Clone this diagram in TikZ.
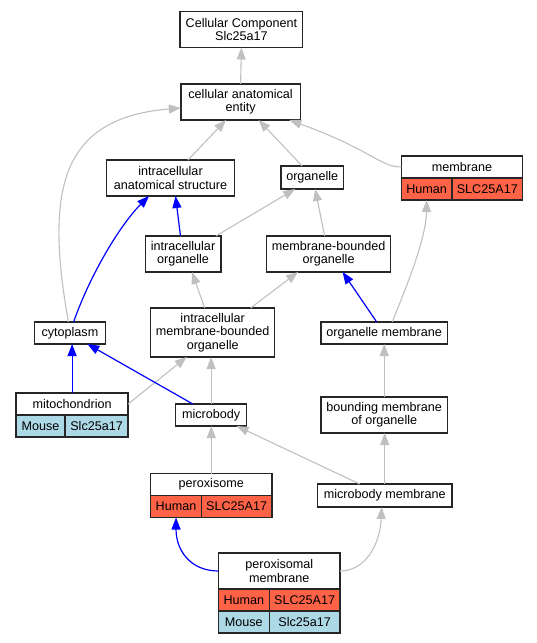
\documentclass[tikz,border=0pt]{standalone}
\usepackage{fontspec}
\setmainfont{Liberation Sans}
\usetikzlibrary{arrows.meta,positioning}

\definecolor{humanred}{HTML}{FF6347}
\definecolor{mouseblue}{HTML}{ADD8E6}
\definecolor{edgegray}{HTML}{C0C0C0}

\begin{document}
\begin{tikzpicture}[x=1pt, y=1pt,
    font=\fontsize{12.6}{13.4}\selectfont,
    term/.style={draw=black!85, line width=1.3pt, fill=white, inner sep=0pt, outer sep=0pt, align=center, minimum height=36pt},
    human/.style={term, fill=humanred, minimum height=22pt},
    mouse/.style={term, fill=mouseblue, minimum height=22pt},
    isa/.style={draw=edgegray, line width=1.1pt, -{Triangle[length=12pt,width=9pt]}},
    lineage/.style={draw=blue, line width=1.2pt, -{Triangle[length=12pt,width=9pt]}}]
    \useasboundingbox (0,0) rectangle (537,-643);

    % Terms
    \node[term, minimum width=122.7pt] (cc) at (241.4,-29.5) {Cellular Component\\Slc25a17};
    \node[term, minimum width=119.5pt] (cae) at (240.6,-102) {cellular anatomical\\entity};
    \node[term, minimum width=128pt] (ias) at (170.5,-178) {intracellular\\anatomical structure};
    \node[term, minimum width=62.7pt, minimum height=23pt] (org) at (312.2,-177.5) {organelle};
    \node[term, minimum width=121.2pt, minimum height=22pt] (memhead) at (462,-167) {membrane};
    \node[human, minimum width=50.6pt, below right=0pt of memhead.south west] (memH) {Human};
    \node[human, minimum width=70.6pt, right=0pt of memH] (memS) {SLC25A17};
    \node[term, minimum width=75.7pt] (io) at (183,-254) {intracellular\\organelle};
    \node[term, minimum width=123.6pt] (mbo) at (328.6,-254) {membrane-bounded\\organelle};
    \node[term, minimum width=124pt, minimum height=49pt] (imbo) at (212.7,-332.5) {intracellular\\membrane-bounded\\organelle};
    \node[term, minimum width=70.5pt, minimum height=22pt] (cyt) at (69.9,-333) {cytoplasm};
    \node[term, minimum width=126.7pt, minimum height=22pt] (om) at (384.2,-333) {organelle membrane};
    \node[term, minimum width=112pt, minimum height=22pt] (mitohead) at (72.1,-404) {mitochondrion};
    \node[mouse, minimum width=49pt, below right=0pt of mitohead.south west] (mitoM) {Mouse};
    \node[mouse, minimum width=63pt, right=0pt of mitoM] (mitoS) {Slc25a17};
    \node[term, minimum width=70.9pt, minimum height=22pt] (mb) at (211.1,-415) {microbody};
    \node[term, minimum width=126.7pt] (bmo) at (384.2,-415) {bounding membrane\\of organelle};
    \node[term, minimum width=121.2pt, minimum height=22pt] (perhead) at (211.3,-484.5) {peroxisome};
    \node[human, minimum width=50.7pt, below right=0pt of perhead.south west] (perH) {Human};
    \node[human, minimum width=70.5pt, right=0pt of perH] (perS) {SLC25A17};
    \node[term, minimum width=134.5pt, minimum height=23pt] (mbm) at (384.7,-495.5) {microbody membrane};
    \node[term, minimum width=121.6pt] (pmhead) at (279.3,-571) {peroxisomal\\membrane};
    \node[human, minimum width=50.7pt, below right=0pt of pmhead.south west] (pmH) {Human};
    \node[human, minimum width=70.9pt, right=0pt of pmH] (pmHS) {SLC25A17};
    \node[mouse, minimum width=50.7pt, below=0pt of pmH] (pmM) {Mouse};
    \node[mouse, minimum width=70.9pt, right=0pt of pmM] (pmMS) {Slc25a17};

    % Gray is_a edges
    \draw[isa] (cae.north) -- (cc.south);
    \draw[isa] ([xshift=17.5pt]ias.north) -- ([xshift=-14.6pt]cae.south);
    \draw[isa] ([xshift=-10pt]org.north) -- ([xshift=18pt]cae.south);
    \draw[isa] (memhead.west) .. controls (380,-167) and (372,-150) .. ([xshift=-11pt]cae.south east);
    \draw[isa] ([xshift=-1.5pt]cyt.north) .. controls (45,-190) and (60,-118) .. ([yshift=-6pt]cae.west);
    \draw[isa] ([xshift=-5pt]io.north east) -- ([xshift=-17pt]org.south);
    \draw[isa] ([xshift=-4pt]mbo.north) -- ([xshift=3pt]org.south);
    \draw[isa] ([xshift=-8pt]imbo.north) -- ([xshift=9pt]io.south);
    \draw[isa] ([xshift=38pt]imbo.north) -- ([xshift=-30.6pt]mbo.south);
    \draw[isa] ([xshift=8pt]om.north) .. controls (405,-290) and (426,-240) .. (memH.south);
    \draw[isa] (mitohead.east) -- ([xshift=-26pt]imbo.south);
    \draw[isa] (mb.north) -- (mb.north |- imbo.south);
    \draw[isa] (bmo.north) -- (bmo.north |- om.south);
    \draw[isa] (perhead.north) -- (perhead.north |- mb.south);
    \draw[isa] ([xshift=-25pt]mbm.north) -- ([xshift=-10pt]mb.south east);
    \draw[isa] (mbm.north) -- (mbm.north |- bmo.south);
    \draw[isa] (pmhead.east) .. controls (365,-571) and (380,-545) .. ([xshift=-3pt]mbm.south);

    % Blue edges
    \draw[lineage] ([xshift=3.7pt]cyt.north) .. controls (90,-275) and (120,-225) .. ([xshift=-21.5pt]ias.south);
    \draw[lineage] ([xshift=-2.5pt]io.north) -- ([xshift=5pt]ias.south);
    \draw[lineage] ([xshift=-7.5pt]om.north) -- ([xshift=14pt]mbo.south);
    \draw[lineage] (mitohead.north) -- (mitohead.north |- cyt.south);
    \draw[lineage] ([xshift=-18.3pt]mb.north) -- ([xshift=-17.8pt]cyt.south east);
    \draw[lineage] (pmhead.west) .. controls (190,-571) and (176,-550) .. (perH.south);
\end{tikzpicture}
\end{document}
